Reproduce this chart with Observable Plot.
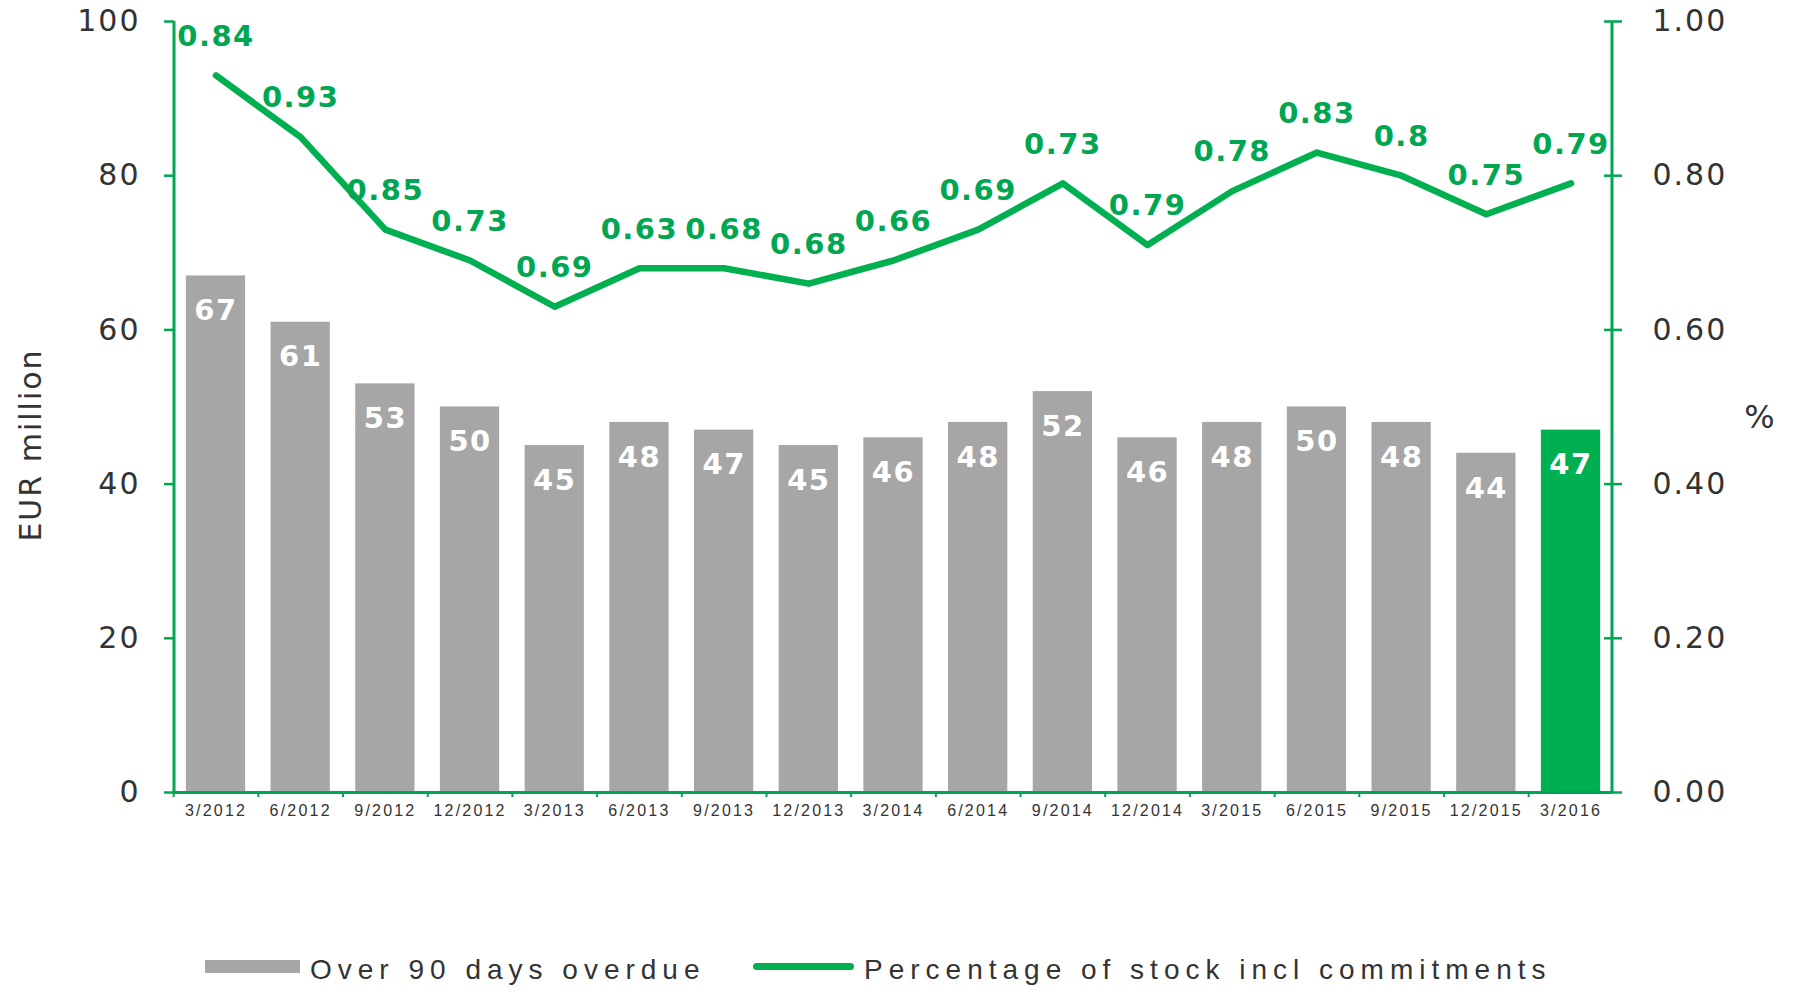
<!DOCTYPE html>
<html>
<head>
<meta charset="utf-8">
<script src="https://cdn.jsdelivr.net/npm/d3@7"></script>
<script src="https://cdn.jsdelivr.net/npm/@observablehq/plot@0.6"></script>
<style>
  html, body { margin: 0; padding: 0; background: #fff; overflow: hidden; }
  #wrap { position: relative; width: 1799px; height: 987px; }
  #chart svg text { letter-spacing: 2px; }
  #chart svg g[aria-label="y-axis tick label"] text { letter-spacing: 2px; }
  #chart svg g[aria-label="x-axis tick label"] text { letter-spacing: 2.2px; }
  #chart svg g[font-weight="bold"] text { letter-spacing: 1.5px; }
  .lg { position: absolute; font-family: "Liberation Sans", Arial, sans-serif; color: #333; }
  .lg-text { font-size: 28px; line-height: 28px; letter-spacing: 6px; white-space: nowrap; }
</style>
</head>
<body>
<div id="wrap">
  <div id="chart"></div>
  <div id="legend"></div>
</div>
<script>
// ---- data ----
const periods = ["3/2012","6/2012","9/2012","12/2012","3/2013","6/2013","9/2013","12/2013","3/2014","6/2014","9/2014","12/2014","3/2015","6/2015","9/2015","12/2015","3/2016"];
const overdue = [67, 61, 53, 50, 45, 48, 47, 45, 46, 48, 52, 46, 48, 50, 48, 44, 47];
const pctLine = [0.93, 0.85, 0.73, 0.69, 0.63, 0.68, 0.68, 0.66, 0.69, 0.73, 0.79, 0.71, 0.78, 0.83, 0.80, 0.75, 0.79];
const pctLabels = ["0.84","0.93","0.85","0.73","0.69","0.63","0.68","0.68","0.66","0.69","0.73","0.79","0.78","0.83","0.8","0.75","0.79"];
const leftTicks = [0, 20, 40, 60, 80, 100];
const rightTicks = [0, 0.2, 0.4, 0.6, 0.8, 1.0];
const seriesNames = ["Over 90 days overdue", "Percentage of stock incl commitments"];
const leftTitle = "EUR million";
const rightTitle = "%";

// ---- style ----
const GREEN = "#00B050", AXIS = "#00A651", LABEL = "#00A651", GRAY = "#A6A6A6", INK = "#333333";
const FONT = "'Liberation Sans', Arial, sans-serif";
const WIDE = "'DejaVu Sans', 'Liberation Sans', sans-serif";
const W = 1799, H = 840, ML = 174, MR = 187, MT = 21, MB = 48;
const PI = 0.3, PO = 0.14;
const step = (W - ML - MR) / (periods.length - PI + 2 * PO);

const table = periods.map((p, i) => ({
  period: p, overdue: overdue[i], pct: pctLine[i], label: pctLabels[i], latest: i === periods.length - 1
}));

const chart = Plot.plot({
  width: W, height: H,
  marginLeft: ML, marginRight: MR, marginTop: MT, marginBottom: MB,
  style: { background: "white", color: INK, fontFamily: FONT, overflow: "visible" },
  x: { type: "band", domain: periods, paddingInner: PI, paddingOuter: PO, round: false, axis: null },
  y: { domain: [0, 100], axis: null },
  color: { domain: [false, true], range: [GRAY, GREEN] },
  marks: [
    Plot.barY(table, { x: "period", y: "overdue", fill: "latest" }),
    Plot.text(table, { x: "period", y: "overdue", text: d => String(d.overdue), dy: 35, fill: "white",
      fontWeight: "bold", fontSize: 29, fontFamily: WIDE }),
    Plot.line(table, { x: "period", y: d => d.pct * 100, stroke: GREEN, strokeWidth: 6.5,
      strokeLinejoin: "round", strokeLinecap: "round" }),
    Plot.text(table, { x: "period", y: d => d.pct * 100, text: "label", dy: -39, fill: LABEL,
      fontWeight: "bold", fontSize: 29, fontFamily: WIDE }),
    Plot.ruleY([0], { stroke: AXIS, strokeWidth: 3 }),
    Plot.axisY({ anchor: "left", ticks: leftTicks, tickSize: 10, tickPadding: 24, stroke: AXIS, strokeWidth: 2.5,
      fill: INK, fontSize: 30, fontFamily: WIDE, label: null }),
    Plot.axisY({ anchor: "right", ticks: rightTicks.map(d => d * 100), tickFormat: d => (d / 100).toFixed(2),
      tickSize: 18, dx: -9, tickPadding: 31, stroke: AXIS, strokeWidth: 2.5,
      fill: INK, fontSize: 30, fontFamily: WIDE, label: null }),
    Plot.axisX({ tickSize: 0, tickPadding: 12, fill: INK, fontSize: 16, fontFamily: FONT, label: null }),
    Plot.axisX({ tickSize: 5, dx: -step / 2, stroke: AXIS, strokeWidth: 2, tickFormat: () => "", label: null }),
    Plot.text([leftTitle], { frameAnchor: "left", textAnchor: "middle", rotate: -90, dx: -143, dy: 38,
      fontSize: 30, fill: INK, fontFamily: WIDE }),
    Plot.text([rightTitle], { frameAnchor: "right", textAnchor: "middle", dx: 148, dy: 11,
      fontSize: 32, fill: INK, fontFamily: WIDE })
  ]
});

// vertical axis lines at the ends of the x range
const xs = chart.scale("x"), ys = chart.scale("y");
const [x0, x1] = xs.range;
const [yb, yt] = ys.range;
const svg = d3.select(chart);
[x0, x1].forEach(x => {
  svg.append("line").attr("x1", x).attr("x2", x).attr("y1", yb + 1.5).attr("y2", yt)
    .attr("stroke", AXIS).attr("stroke-width", 3);
});
document.getElementById("chart").appendChild(chart);

// ---- legend (HTML, below the svg) ----
const lg = document.getElementById("legend");
lg.innerHTML = `
  <div class="lg" style="left:205px;top:960px;width:95px;height:13px;background:${GRAY}"></div>
  <div class="lg lg-text" style="left:310px;top:956px">${seriesNames[0]}</div>
  <div class="lg" style="left:753px;top:963px;width:101px;height:7px;border-radius:4px;background:${GREEN}"></div>
  <div class="lg lg-text" style="left:864px;top:956px">${seriesNames[1]}</div>
`;
</script>
</body>
</html>
